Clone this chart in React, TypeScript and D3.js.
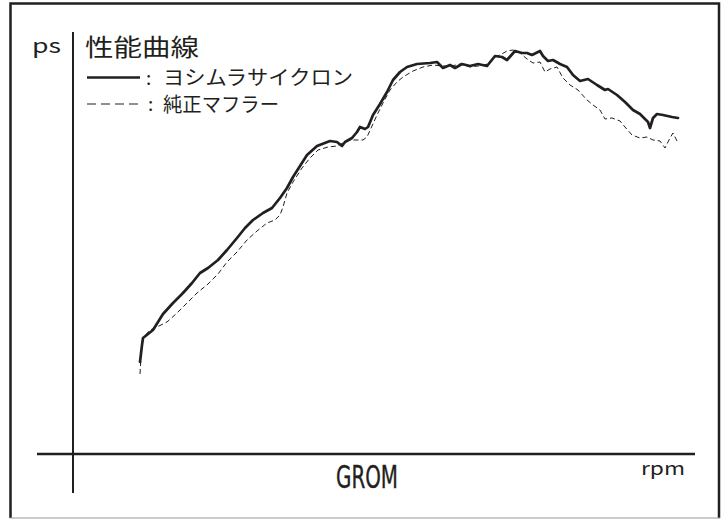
import React from "react";
import * as d3 from "d3";

// Yoshimura Cyclone (solid)
const yoshimuraRpm = [1340,1380,1400,1600,1800,2000,2200,2380,2540,2700,2900,3080,3280,3440,3600,3800,3980,4140,4280,4400,4540,4680,4880,5140,5280,5380,5440,5580,5680,5740,5840,5900,6000,6140,6280,6400,6540,6680,6880,7140,7280,7400,7540,7640,7780,7940,8100,8280,8440,8580,8680,8840,8980,9080,9180,9340,9400,9500,9600,9740,9880,10000,10140,10300,10480,10640,10700,10880,11040,11200,11340,11440,11500,11540,11600,11680,11800,11980,12100];
const yoshimuraPs = [9.2,10.9,11.6,12.4,14.0,15.1,16.1,17.1,18.1,18.6,19.4,20.4,21.6,22.6,23.4,24.1,24.6,25.6,26.6,27.7,28.8,29.9,30.8,31.3,31.2,30.8,31.2,31.6,32.2,32.7,32.5,32.7,33.9,35.0,36.2,37.4,38.2,38.7,39.0,39.1,39.2,38.6,38.9,38.6,39.0,38.8,39.0,38.8,39.8,39.7,39.4,40.3,40.1,40.1,39.9,40.3,39.8,39.3,39.4,39.0,38.7,37.9,37.3,37.5,36.9,36.4,36.5,35.9,35.2,34.4,34.0,33.5,33.2,32.6,33.6,34.0,33.9,33.7,33.6];

// Stock muffler (dashed)
const stockRpm = [1340,1360,1400,1540,1680,1880,2080,2280,2480,2700,2900,3080,3280,3480,3680,3880,4040,4140,4200,4280,4400,4580,4740,4900,5100,5280,5400,5540,5680,5800,5880,5980,6080,6200,6340,6480,6600,6800,7000,7200,7400,7580,7740,7940,8100,8300,8400,8540,8680,8800,8940,9080,9200,9340,9440,9540,9680,9800,9940,10100,10280,10400,10540,10640,10780,10940,11040,11180,11340,11480,11600,11740,11840,11940,12000,12080];
const stockPs = [8.0,9.7,11.6,12.4,12.7,13.2,14.1,15.1,16.1,17.0,18.0,19.2,20.2,21.4,22.3,23.1,23.4,23.9,24.7,26.1,27.2,28.6,29.6,30.4,30.7,30.8,31.1,31.4,31.4,31.4,31.7,32.8,33.9,35.1,36.4,37.2,37.7,38.3,38.7,38.9,38.8,38.8,39.0,38.7,38.8,39.0,39.6,39.9,40.3,40.4,40.1,39.5,39.1,39.2,38.2,38.5,38.7,37.6,36.9,36.4,35.4,34.9,34.4,33.5,33.6,33.3,32.7,31.9,31.6,31.7,31.4,31.3,30.6,31.6,32.1,31.3];

const titleText = "性能曲線";
const legendLabels = ["ヨシムラサイクロン", "純正マフラー"];
const yUnit = "ps";
const xUnit = "rpm";
const modelName = "GROM";

const INK = "#231f20";
const JP = "'Noto Sans CJK JP', 'Noto Sans', sans-serif";

export default function App() {
  const W = 725, H = 519;
  const x = d3.scaleLinear().domain([0, 13000]).range([73, 723]);
  const y = d3.scaleLinear().domain([0, 45]).range([454, 4]);

  const toPts = (xs: number[], ys: number[]) => xs.map((r, i) => [r, ys[i]] as [number, number]);
  const line = d3.line<[number, number]>().x(d => x(d[0])).y(d => y(d[1])).curve(d3.curveLinear);

  const solidPath = line(toPts(yoshimuraRpm, yoshimuraPs)) || "";
  const dashPath = line(toPts(stockRpm, stockPs)) || "";

  return (
    <svg width={W} height={H} style={{ position: "absolute", left: 0, top: 0, background: "#fff" }}>
      <rect x={0} y={0} width={W} height={H} fill="#fff" />
      {/* frame */}
      <path d="M10.5,518 L10.5,3.5 L719,3.5 L719,518" fill="none" stroke={INK} strokeWidth={2.5} />
      <line x1={10} x2={720} y1={518} y2={518} stroke="#999" strokeWidth={1.2} />

      {/* axes */}
      <line x1={73} x2={73} y1={32} y2={493} stroke={INK} strokeWidth={2} />
      <line x1={37} x2={695} y1={454} y2={454} stroke={INK} strokeWidth={2.5} />

      {/* curves */}
      <path d={dashPath} fill="none" stroke={INK} strokeWidth={1} strokeDasharray="5,3" strokeLinejoin="round" />
      <path d={solidPath} fill="none" stroke={INK} strokeWidth={2.7} strokeLinejoin="round" strokeLinecap="round" />

      {/* labels */}
      <text x={32} y={53} fontFamily={JP} fontSize={20} fill={INK} textLength={29} lengthAdjust="spacingAndGlyphs">{yUnit}</text>
      <text x={85} y={56} fontFamily={JP} fontSize={24} fill={INK} textLength={114} lengthAdjust="spacingAndGlyphs">{titleText}</text>

      <line x1={87} x2={140} y1={77.5} y2={77.5} stroke={INK} strokeWidth={2.6} />
      <text x={146} y={85} fontFamily={JP} fontSize={19} fill={INK}>:</text>
      <text x={163} y={85} fontFamily={JP} fontSize={20} fill={INK} textLength={190} lengthAdjust="spacingAndGlyphs">{legendLabels[0]}</text>

      <line x1={87} x2={141} y1={104} y2={104} stroke={INK} strokeWidth={1.2} strokeDasharray="9,5" />
      <text x={148} y={111} fontFamily={JP} fontSize={19} fill={INK}>:</text>
      <text x={163} y={112} fontFamily={JP} fontSize={20} fill={INK} textLength={116} lengthAdjust="spacingAndGlyphs">{legendLabels[1]}</text>

      <text x={336} y={488} fontFamily="'Liberation Sans Narrow', 'DejaVu Sans Condensed', sans-serif" fontSize={32} fill={INK} stroke={INK} strokeWidth={0.4} textLength={62} lengthAdjust="spacingAndGlyphs">{modelName}</text>
      <text x={641} y={475} fontFamily={JP} fontSize={18} fill={INK} textLength={44} lengthAdjust="spacingAndGlyphs">{xUnit}</text>
    </svg>
  );
}
